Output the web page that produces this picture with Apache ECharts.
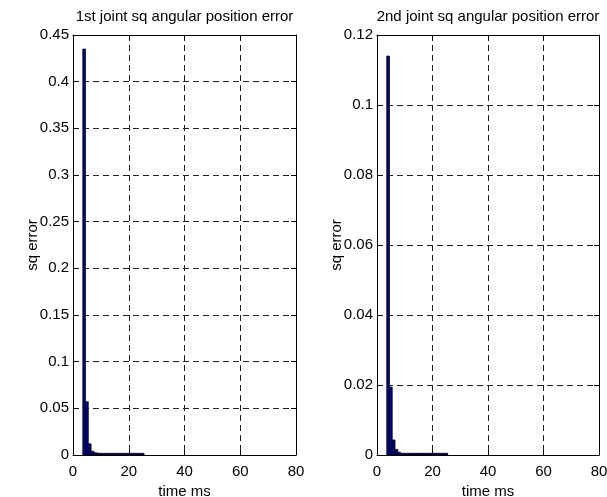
<!DOCTYPE html>
<html>
<head>
<meta charset="utf-8">
<script src="https://cdn.jsdelivr.net/npm/echarts@6/dist/echarts.min.js"></script>
<style>
  html, body { margin: 0; padding: 0; background: #fff; }
  #chart { width: 607px; height: 497px; }
</style>
</head>
<body>
<div id="chart"></div>
<script>
// Sample times (ms) of the recorded squared errors
const timeMs = [4, 5, 6, 7, 8, 9, 10, 11, 12, 13, 14, 15, 16, 17, 18, 19, 20, 21, 22, 23, 24, 25];

// Squared angular position error, joint 1
const joint1SqErr = [0.435, 0.057, 0.012, 0.004, 0.0025, 0.002, 0.0018, 0.0018, 0.0018, 0.0018, 0.0018,
  0.0018, 0.0018, 0.0018, 0.0018, 0.0018, 0.0018, 0.0018, 0.0018, 0.0018, 0.0018, 0.0018];

// Squared angular position error, joint 2
const joint2SqErr = [0.114, 0.0194, 0.0043, 0.0016, 0.0008, 0.0005, 0.0005, 0.0005, 0.0005, 0.0005, 0.0005,
  0.0005, 0.0005, 0.0005, 0.0005, 0.0005, 0.0005, 0.0005, 0.0005, 0.0005, 0.0005, 0.0005];

const titles = ['1st joint sq angular position error', '2nd joint sq angular position error'];
const xTicks = { min: 0, max: 80, interval: 20 };
const yTicks = [
  { min: 0, max: 0.45, interval: 0.05 },
  { min: 0, max: 0.12, interval: 0.02 }
];

const FONT = '"Liberation Sans", Arial, Helvetica, sans-serif';
const FS = 15;

const grids = [
  { left: 73, top: 35, width: 223, height: 420 },
  { left: 377, top: 35, width: 222, height: 420 }
];

const dashed = { show: true, lineStyle: { color: '#222', type: [6, 4], width: 1 } };

function mainX(i) {
  return {
    type: 'value', gridIndex: i, ...xTicks,
    name: 'time ms', nameLocation: 'middle', nameGap: 29, nameMoveOverlap: false,
    nameTextStyle: { color: '#000', fontFamily: FONT, fontSize: FS },
    axisLine: { show: true, onZero: false, lineStyle: { color: '#000' } },
    axisTick: { show: true, inside: true, length: 5, lineStyle: { color: '#000' } },
    axisLabel: { color: '#000', fontFamily: FONT, fontSize: FS, margin: 9 },
    splitLine: dashed
  };
}
function mainY(i) {
  return {
    type: 'value', gridIndex: i, ...yTicks[i],
    name: 'sq error', nameLocation: 'middle', nameGap: i === 0 ? 33 : 33, nameMoveOverlap: false,
    nameTextStyle: { color: '#000', fontFamily: FONT, fontSize: FS },
    axisLine: { show: true, onZero: false, lineStyle: { color: '#000' } },
    axisTick: { show: true, inside: true, length: 5, lineStyle: { color: '#000' } },
    axisLabel: { color: '#000', fontFamily: FONT, fontSize: FS, margin: 4 },
    splitLine: dashed
  };
}
// Mirror axes on the top and right edges carrying only inward ticks
function mirrorX(i) {
  return {
    type: 'value', gridIndex: i, position: 'top', ...xTicks,
    axisLine: { show: true, onZero: false, lineStyle: { color: '#000' } },
    axisTick: { show: true, inside: true, length: 5, lineStyle: { color: '#000' } },
    axisLabel: { show: false }, splitLine: { show: false }
  };
}
function mirrorY(i) {
  return {
    type: 'value', gridIndex: i, position: 'right', ...yTicks[i],
    axisLine: { show: true, onZero: false, lineStyle: { color: '#000' } },
    axisTick: { show: true, inside: true, length: 5, lineStyle: { color: '#000' } },
    axisLabel: { show: false }, splitLine: { show: false }
  };
}

function barSeries(i, values) {
  return {
    type: 'custom',
    xAxisIndex: i, yAxisIndex: i,
    encode: { x: 0, y: 1 },
    data: timeMs.map((t, k) => [t, values[k]]),
    renderItem: function (params, api) {
      const x = api.value(0), y = api.value(1);
      const top = api.coord([x - 0.5, y]);
      const base = api.coord([x + 0.5, 0]);
      return {
        type: 'rect',
        shape: { x: top[0], y: top[1], width: base[0] - top[0], height: base[1] - top[1] },
        style: { fill: '#000080', stroke: '#000', lineWidth: 0.7 }
      };
    },
    z: 3
  };
}

const chart = echarts.init(document.getElementById('chart'), null, { renderer: 'canvas' });
chart.setOption({
  animation: false,
  backgroundColor: '#fff',
  // Panel titles centred over each plot area
  graphic: titles.map((t, i) => ({
    type: 'text',
    x: grids[i].left + grids[i].width / 2,
    y: 17,
    style: {
      text: t, fill: '#000', fontSize: FS, fontFamily: FONT,
      align: 'center', verticalAlign: 'middle'
    }
  })),
  grid: grids.map(g => ({ ...g, show: false, containLabel: false, outerBoundsMode: 'none' })),
  xAxis: [mainX(0), mainX(1), mirrorX(0), mirrorX(1)],
  yAxis: [mainY(0), mainY(1), mirrorY(0), mirrorY(1)],
  series: [barSeries(0, joint1SqErr), barSeries(1, joint2SqErr)]
});
</script>
</body>
</html>
